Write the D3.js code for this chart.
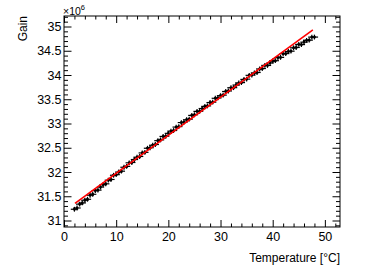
<!DOCTYPE html>
<html>
<head>
<meta charset="utf-8">
<script src="https://cdn.jsdelivr.net/npm/d3@7"></script>
<style>
  body { margin: 0; background: #fff; }
  svg { display: block; font-family: "Liberation Sans", Arial, sans-serif; }
</style>
</head>
<body>
<div id="chart"></div>
<script>
// measured temperature (deg C)
const temps = [2, 2.5, 3, 3.5, 4, 4.5, 5, 5.5, 6, 6.5, 7, 7.5, 8, 8.5, 9, 9.5, 10, 10.5, 11, 11.5,
  12, 12.5, 13, 13.5, 14, 14.5, 15, 15.5, 16, 16.5, 17, 17.5, 18, 18.5, 19, 19.5, 20, 20.5, 21, 21.5,
  22, 22.5, 23, 23.5, 24, 24.5, 25, 25.5, 26, 26.5, 27, 27.5, 28, 28.5, 29, 29.5, 30, 30.5, 31, 31.5,
  32, 32.5, 33, 33.5, 34, 34.5, 35, 35.5, 36, 36.5, 37, 37.5, 38, 38.5, 39, 39.5, 40, 40.5, 41, 41.5,
  42, 42.5, 43, 43.5, 44, 44.5, 45, 45.5, 46, 46.5, 47, 47.5, 48];

// gain in units of 1e6
const gains = [31.232, 31.258, 31.337, 31.362, 31.418, 31.438, 31.521, 31.541, 31.617, 31.626,
  31.689, 31.739, 31.756, 31.831, 31.846, 31.933, 31.945, 31.999, 32.017, 32.098,
  32.115, 32.189, 32.196, 32.257, 32.305, 32.320, 32.393, 32.405, 32.490, 32.500,
  32.552, 32.567, 32.646, 32.662, 32.733, 32.738, 32.797, 32.843, 32.855, 32.926,
  32.936, 33.019, 33.028, 33.077, 33.090, 33.167, 33.180, 33.250, 33.252, 33.309,
  33.353, 33.363, 33.432, 33.440, 33.520, 33.527, 33.574, 33.585, 33.660, 33.671,
  33.738, 33.739, 33.793, 33.835, 33.843, 33.909, 33.915, 33.993, 33.998, 34.043,
  34.052, 34.124, 34.133, 34.198, 34.197, 34.249, 34.289, 34.295, 34.359, 34.363,
  34.439, 34.441, 34.484, 34.491, 34.561, 34.568, 34.631, 34.627, 34.677, 34.715,
  34.718, 34.781, 34.782];

const tempErr = 0.7;
const gainErr = 0.05;

// linear fit drawn in red
const fitTemps = [2.1, 47.7];
const fitGains = [31.355, 34.93];

const xTicks = [0, 10, 20, 30, 40, 50];
const xTickLabels = ["0", "10", "20", "30", "40", "50"];
const yTicks = [31, 31.5, 32, 32.5, 33, 33.5, 34, 34.5, 35];
const yTickLabels = ["31", "31.5", "32", "32.5", "33", "33.5", "34", "34.5", "35"];

const W = 382, H = 275;
const padL = 64, padR = 340, padT = 16, padB = 227;

const svg = d3.select("#chart").append("svg")
  .attr("width", W).attr("height", H);

const x = d3.scaleLinear().domain([0, 52.9]).range([padL, padR]);
const y = d3.scaleLinear().domain([30.866, 35.2165]).range([padB, padT]);

const xMinor = d3.range(0, 53, 2).filter(v => v % 10 !== 0);
const yMinor = d3.range(309, 353).map(v => v / 10).filter(v => Math.round(v * 10) % 5 !== 0);

function drawAxis(gen, pos, vals, size, labels) {
  const g = svg.append("g")
    .attr("transform", pos)
    .call(gen.tickValues(vals).tickSize(size).tickPadding(4)
      .tickFormat((d, i) => labels ? labels[i] : ""));
  g.select(".domain").remove();
  g.selectAll(".tick line").attr("stroke", "#000").attr("stroke-width", 1);
  g.selectAll(".tick text")
    .attr("fill", "#000")
    .style("font-size", "12.5px")
    .style("font-family", "Liberation Sans, Arial, sans-serif");
  return g;
}

// bottom / top
drawAxis(d3.axisBottom(x), `translate(0,${padB})`, xTicks, -7, xTickLabels)
  .selectAll(".tick text").attr("y", 5);
drawAxis(d3.axisBottom(x), `translate(0,${padB})`, xMinor, -3.5, null);
drawAxis(d3.axisTop(x), `translate(0,${padT})`, xTicks, -7, null);
drawAxis(d3.axisTop(x), `translate(0,${padT})`, xMinor, -3.5, null);

// left / right
drawAxis(d3.axisLeft(y), `translate(${padL},0)`, yTicks, -7.5, yTickLabels)
  .selectAll(".tick text").attr("x", -2.5);
drawAxis(d3.axisLeft(y), `translate(${padL},0)`, yMinor, -4, null);
drawAxis(d3.axisRight(y), `translate(${padR},0)`, yTicks, -7.5, null);
drawAxis(d3.axisRight(y), `translate(${padR},0)`, yMinor, -4, null);

// frame
svg.append("rect")
  .attr("x", padL).attr("y", padT)
  .attr("width", padR - padL).attr("height", padB - padT)
  .attr("fill", "none").attr("stroke", "#000").attr("stroke-width", 1);

// data points with error bars
const pts = svg.append("g").attr("stroke", "#000").attr("stroke-width", 1.2);
temps.forEach((t, i) => {
  const g = gains[i];
  pts.append("line")
    .attr("x1", x(t - tempErr)).attr("x2", x(t + tempErr))
    .attr("y1", y(g)).attr("y2", y(g));
  pts.append("line")
    .attr("x1", x(t)).attr("x2", x(t))
    .attr("y1", y(g - gainErr)).attr("y2", y(g + gainErr));
  pts.append("rect")
    .attr("x", x(t) - 1.2).attr("y", y(g) - 1.2)
    .attr("width", 2.4).attr("height", 2.4)
    .attr("fill", "#000").attr("stroke", "none");
});

// fit line
svg.append("line")
  .attr("x1", x(fitTemps[0])).attr("y1", y(fitGains[0]))
  .attr("x2", x(fitTemps[1])).attr("y2", y(fitGains[1]))
  .attr("stroke", "#ff0000").attr("stroke-width", 1.6);

// titles
svg.append("text")
  .attr("x", padR).attr("y", 262)
  .attr("text-anchor", "end")
  .style("font-size", "12px")
  .text("Temperature [°C]");

svg.append("text")
  .attr("transform", `translate(27,${padT}) rotate(-90)`)
  .attr("text-anchor", "end")
  .style("font-size", "12px")
  .text("Gain");

const exp = svg.append("text").attr("x", 63).attr("y", 14.5).style("font-size", "10.5px");
exp.append("tspan").text("×10");
exp.append("tspan").attr("dy", -5).style("font-size", "7.5px").text("6");
</script>
</body>
</html>
